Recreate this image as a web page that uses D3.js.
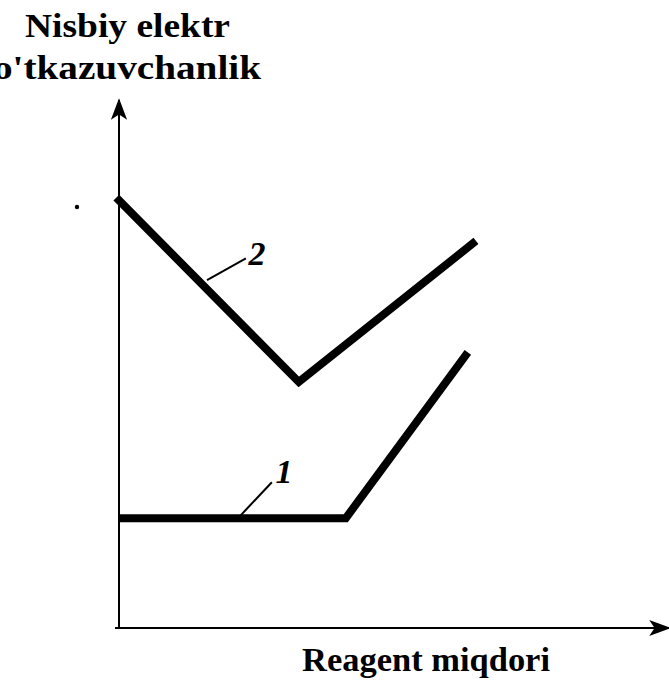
<!DOCTYPE html>
<html>
<head>
<meta charset="utf-8">
<script src="https://cdn.jsdelivr.net/npm/d3@7"></script>
<style>
  body { margin: 0; background: white; }
  svg { display: block; }
</style>
</head>
<body>
<svg width="669" height="681"></svg>
<script>
// curve data, arbitrary units (relative conductivity vs reagent amount)
var curve1X = [0, 4.2, 6.46];
var curve1Y = [2.08, 2.08, 5.22];
var curve2X = [-0.05, 3.33, 6.61];
var curve2Y = [8.15, 4.66, 7.33];

var curveNames = ["1", "2"];
// leader of each label: from the curve to the number
var leadFromX = [2.24, 1.63];
var leadFromY = [2.12, 6.59];
var leadToX = [2.83, 2.35];
var leadToY = [2.76, 7.0];
var labelTextX = [2.9, 2.4];
var labelTextY = [2.75, 6.87];

var axisYLabel = ["Nisbiy elektr", "o'tkazuvchanlik"];
var axisXLabel = "Reagent miqdori";

var svg = d3.select("svg"),
    width = +svg.attr("width"),
    height = +svg.attr("height");

var x = d3.scaleLinear().domain([0, 10]).range([119, 659]);
var y = d3.scaleLinear().domain([0, 10]).range([628, 100]);

var serif = "'Liberation Serif', 'DejaVu Serif', serif";

// arrow heads
var defs = svg.append("defs");
defs.append("marker")
    .attr("id", "arrow")
    .attr("viewBox", "0 -5 12 10")
    .attr("refX", 11)
    .attr("refY", 0)
    .attr("orient", "auto")
    .attr("markerUnits", "userSpaceOnUse")
    .attr("markerWidth", 22)
    .attr("markerHeight", 18)
    .append("path")
    .attr("d", "M0,-4.5 L12,0 L0,4.5 L3,0 Z")
    .style("fill", "black");

// axes
svg.append("line")
    .attr("x1", x(0)).attr("y1", y(0))
    .attr("x2", x(0)).attr("y2", y(10))
    .style("stroke", "black")
    .style("stroke-width", 2)
    .attr("marker-end", "url(#arrow)");

svg.append("line")
    .attr("x1", x(0) - 4).attr("y1", y(0))
    .attr("x2", width).attr("y2", y(0))
    .style("stroke", "black")
    .style("stroke-width", 2)
    .attr("marker-end", "url(#arrow)");

// curves
var line = d3.line()
    .x(function(d) { return x(d[0]); })
    .y(function(d) { return y(d[1]); });

var curves = [d3.zip(curve1X, curve1Y), d3.zip(curve2X, curve2Y)];

svg.append("g")
    .selectAll("path")
    .data(curves)
    .enter()
    .append("path")
    .attr("d", line)
    .style("fill", "none")
    .style("stroke", "black")
    .style("stroke-width", 8)
    .style("stroke-linejoin", "miter");

// curve number labels with leader lines
var labels = svg.append("g")
    .selectAll("g")
    .data(curveNames)
    .enter()
    .append("g");

labels.append("line")
    .attr("x1", function(d, i) { return x(leadFromX[i]); })
    .attr("y1", function(d, i) { return y(leadFromY[i]); })
    .attr("x2", function(d, i) { return x(leadToX[i]); })
    .attr("y2", function(d, i) { return y(leadToY[i]); })
    .style("stroke", "black")
    .style("stroke-width", 2);

labels.append("text")
    .attr("x", function(d, i) { return x(labelTextX[i]); })
    .attr("y", function(d, i) { return y(labelTextY[i]); })
    .text(function(d) { return d; })
    .style("font-family", serif)
    .style("font-weight", "bold")
    .style("font-style", "italic")
    .style("font-size", "34px");

// axis titles
svg.append("g")
    .selectAll("text")
    .data(axisYLabel)
    .enter()
    .append("text")
    .attr("x", function(d, i) { return i === 0 ? 25 : -7; })
    .attr("y", function(d, i) { return 37 + i * 42; })
    .attr("textLength", function(d, i) { return i === 0 ? 205 : 268; })
    .attr("lengthAdjust", "spacingAndGlyphs")
    .text(function(d) { return d; })
    .style("font-family", serif)
    .style("font-weight", "bold")
    .style("font-size", "33px");

svg.append("text")
    .attr("x", 302)
    .attr("y", 671)
    .attr("textLength", 248)
    .attr("lengthAdjust", "spacingAndGlyphs")
    .text(axisXLabel)
    .style("font-family", serif)
    .style("font-weight", "bold")
    .style("font-size", "34px");

// stray print speck
svg.append("circle")
    .attr("cx", 77).attr("cy", 207).attr("r", 2.2)
    .style("fill", "black");
</script>
</body>
</html>
